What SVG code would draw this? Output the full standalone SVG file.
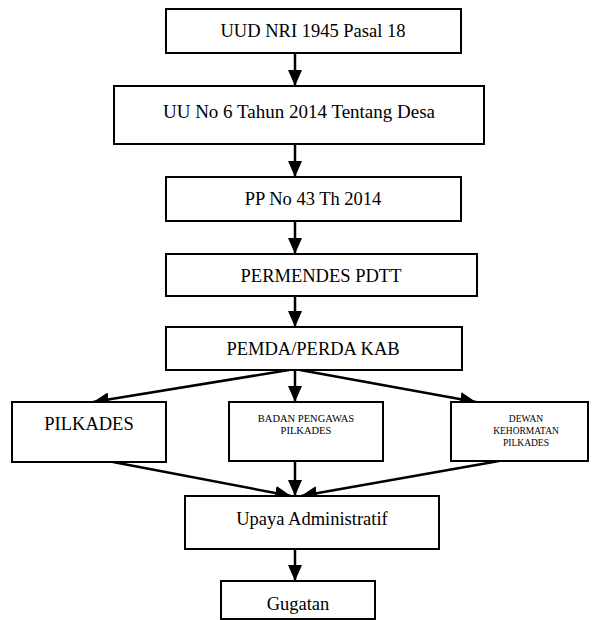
<svg xmlns="http://www.w3.org/2000/svg" width="593" height="620" viewBox="0 0 593 620">
<style>
.box{fill:#fff;stroke:#000;stroke-width:2}
.t{font-family:"Liberation Serif","Times New Roman",serif;fill:#000;text-anchor:middle;font-size:18.5px}
.s{font-size:10.5px}
.xs{font-size:9.5px}
.c{stroke:#000;stroke-width:2.5;fill:none;marker-end:url(#ah)}
</style>
<defs>
<marker id="ah" markerUnits="userSpaceOnUse" markerWidth="16" markerHeight="14" refX="16" refY="7" orient="auto">
<path d="M0,0 L16,7 L0,14 z" fill="#000"/>
</marker>
</defs>
<rect width="593" height="620" fill="#fff"/>
<g id="connectors">
<line class="c" x1="295" y1="53" x2="295" y2="86"/>
<line class="c" x1="295" y1="145" x2="295" y2="177"/>
<line class="c" x1="295" y1="221" x2="295" y2="254"/>
<line class="c" x1="295" y1="296" x2="295" y2="327"/>
<line class="c" x1="289" y1="370" x2="93" y2="402"/>
<line class="c" x1="295" y1="370" x2="295" y2="402"/>
<line class="c" x1="300" y1="370" x2="476" y2="402"/>
<line class="c" x1="113" y1="462" x2="291" y2="496"/>
<line class="c" x1="295" y1="461" x2="295" y2="496"/>
<line class="c" x1="499" y1="461" x2="301" y2="496"/>
<line class="c" x1="295" y1="549" x2="295" y2="581"/>
</g>
<g id="n-uud">
<rect class="box" x="166" y="9" width="295" height="44"/>
<text class="t" x="313" y="37">UUD NRI 1945 Pasal 18</text>
</g>
<g id="n-uu">
<rect class="box" x="114" y="86" width="370" height="58"/>
<text class="t" x="299" y="118" style="font-size:19px">UU No 6 Tahun 2014 Tentang Desa</text>
</g>
<g id="n-pp">
<rect class="box" x="166" y="177" width="295" height="44"/>
<text class="t" x="313" y="205">PP No 43 Th 2014</text>
</g>
<g id="n-permendes">
<rect class="box" x="166" y="254" width="311" height="42"/>
<text class="t" x="321" y="282">PERMENDES PDTT</text>
</g>
<g id="n-pemda">
<rect class="box" x="166" y="327" width="296" height="43"/>
<text class="t" x="313" y="355">PEMDA/PERDA KAB</text>
</g>
<g id="n-pilkades">
<rect class="box" x="12" y="402" width="154" height="60"/>
<text class="t" x="89" y="430">PILKADES</text>
</g>
<g id="n-badan">
<rect class="box" x="229" y="402" width="154" height="59"/>
<text class="t s" x="306" y="422">BADAN PENGAWAS</text>
<text class="t s" x="306" y="434">PILKADES</text>
</g>
<g id="n-dewan">
<rect class="box" x="451" y="402" width="137" height="59"/>
<text class="t xs" x="526" y="422">DEWAN</text>
<text class="t xs" x="526" y="434">KEHORMATAN</text>
<text class="t xs" x="526" y="446">PILKADES</text>
</g>
<g id="n-upaya">
<rect class="box" x="185" y="496" width="254" height="53"/>
<text class="t" x="312" y="525">Upaya Administratif</text>
</g>
<g id="n-gugatan">
<rect class="box" x="221" y="581" width="154" height="38"/>
<text class="t" x="298" y="610">Gugatan</text>
</g>
</svg>
